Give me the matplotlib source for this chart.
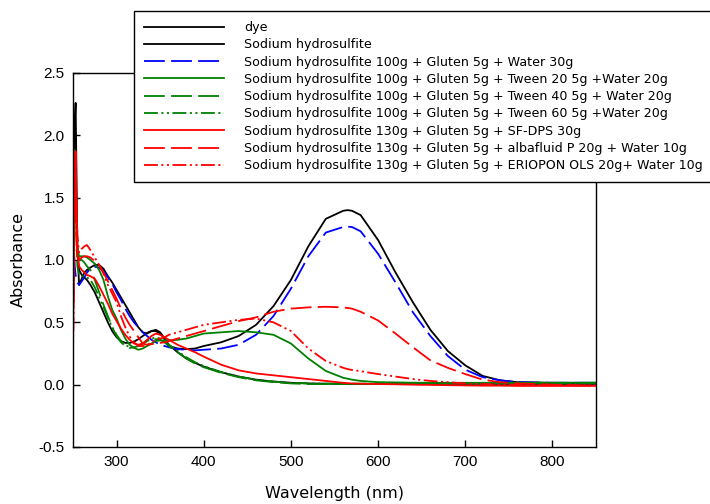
import matplotlib
matplotlib.use("Agg")
import matplotlib.pyplot as plt

plt.rcParams['font.family'] = ['DejaVu Sans']
plt.rcParams['lines.scale_dashes'] = False

wavelength = [250, 251, 252, 253, 254, 255,
              257, 260, 263, 266, 270,
              275, 280, 285, 290, 295, 300, 305, 310, 315, 320, 325, 330, 335, 340, 345, 350, 355, 360,
              370, 380, 390, 400,
              420, 440, 460, 480, 500, 520, 540, 560,
              565, 570, 580,
              600, 620, 640, 660, 680, 700, 720, 740, 760,
              800, 850]

dye = [1.00, 1.60, 2.10, 2.26, 1.70, 1.10,
       0.80, 0.85, 0.90, 0.92, 0.94,
       0.96, 0.96, 0.93, 0.87, 0.82, 0.76, 0.70, 0.64, 0.58, 0.52, 0.46, 0.42, 0.41, 0.43, 0.44, 0.42, 0.37, 0.31,
       0.29, 0.285, 0.29, 0.31,
       0.34, 0.39, 0.48, 0.63, 0.84, 1.11, 1.33, 1.395,
       1.40, 1.395, 1.36,
       1.16, 0.90, 0.66, 0.44, 0.27, 0.155, 0.07, 0.035, 0.02,
       0.015, 0.015]

sodium_hydrosulfite = [0.80, 1.40, 1.90, 1.70, 1.30, 1.05,
                       0.92, 0.88, 0.86, 0.84, 0.80,
                       0.74, 0.66, 0.58, 0.50, 0.43, 0.38, 0.35, 0.335, 0.335, 0.345, 0.365, 0.39, 0.415, 0.43, 0.43, 0.41, 0.37, 0.32,
                       0.26, 0.21, 0.175, 0.145,
                       0.10, 0.065, 0.04, 0.025, 0.015, 0.01, 0.008, 0.006,
                       0.006, 0.006, 0.006,
                       0.006, 0.006, 0.006, 0.006, 0.006, 0.006, 0.006, 0.006, 0.006,
                       0.006, 0.006]

sh100_water = [1.25, 1.10, 0.95, 0.88, 0.85, 0.82,
               0.80, 0.83, 0.86, 0.90, 0.93,
               0.945, 0.94, 0.91, 0.86, 0.81, 0.74, 0.68, 0.61, 0.55, 0.50, 0.46, 0.42, 0.39, 0.36, 0.34, 0.32, 0.31, 0.30,
               0.285, 0.28, 0.275, 0.28,
               0.29, 0.32, 0.40, 0.55, 0.77, 1.03, 1.22, 1.265,
               1.267, 1.265, 1.23,
               1.05, 0.82, 0.58, 0.39, 0.23, 0.12, 0.06, 0.035, 0.02,
               0.015, 0.015]

sh100_tween20 = [0.50, 1.20, 1.88, 1.60, 1.30, 1.10,
                 1.03, 1.03, 1.03, 1.02, 1.00,
                 0.97, 0.92, 0.84, 0.71, 0.60, 0.53, 0.44, 0.37, 0.32, 0.295, 0.28, 0.29, 0.31, 0.33, 0.35, 0.355, 0.355, 0.355,
                 0.36, 0.37, 0.39, 0.41,
                 0.42, 0.43, 0.42, 0.40, 0.33, 0.21, 0.11, 0.055,
                 0.048, 0.04, 0.03,
                 0.02, 0.018, 0.016, 0.015, 0.015, 0.015, 0.015, 0.015, 0.015,
                 0.015, 0.015]

sh100_tween40 = [0.50, 1.10, 1.85, 1.50, 1.20, 1.05,
                 1.00, 1.00, 0.98, 0.95, 0.92,
                 0.84, 0.74, 0.64, 0.55, 0.46, 0.39, 0.34, 0.31, 0.295, 0.30, 0.31, 0.33, 0.35, 0.36, 0.365, 0.36, 0.34, 0.31,
                 0.26, 0.21, 0.17, 0.14,
                 0.095, 0.06, 0.035, 0.02, 0.01, 0.005, 0.005, 0.005,
                 0.005, 0.005, 0.005,
                 0.006, 0.007, 0.008, 0.009, 0.01, 0.01, 0.012, 0.012, 0.014,
                 0.015, 0.015]

sh100_tween60 = [0.55, 1.20, 1.80, 1.50, 1.15, 0.95,
                 0.88, 0.87, 0.87, 0.86, 0.84,
                 0.78, 0.70, 0.62, 0.54, 0.46, 0.40, 0.35, 0.32, 0.30, 0.30, 0.31, 0.33, 0.35, 0.37, 0.38, 0.37, 0.35, 0.32,
                 0.27, 0.22, 0.18, 0.15,
                 0.10, 0.065, 0.04, 0.025, 0.015, 0.01, 0.008, 0.008,
                 0.008, 0.008, 0.008,
                 0.008, 0.009, 0.01, 0.01, 0.01, 0.01, 0.01, 0.012, 0.012,
                 0.012, 0.012]

sh130_sfdps = [0.30, 1.00, 1.60, 1.87, 1.40, 1.05,
               0.95, 0.92, 0.90, 0.88, 0.87,
               0.85, 0.79, 0.72, 0.65, 0.57, 0.51, 0.45, 0.40, 0.36, 0.33, 0.32, 0.33, 0.36, 0.39, 0.41, 0.40, 0.38, 0.36,
               0.32, 0.29, 0.26, 0.225,
               0.16, 0.115, 0.09, 0.075, 0.06, 0.045, 0.03, 0.015,
               0.012, 0.01, 0.008,
               0.005, 0.003, 0.0, -0.002, -0.004, -0.006, -0.008, -0.008, -0.01,
               -0.01, -0.01]

sh130_albafluid = [0.40, 1.10, 1.70, 1.80, 1.40, 1.10,
                   1.00, 1.02, 1.03, 1.03, 1.02,
                   0.99, 0.96, 0.90, 0.83, 0.76, 0.69, 0.61, 0.54, 0.48, 0.43, 0.38, 0.33, 0.32, 0.325, 0.33, 0.335, 0.34, 0.35,
                   0.37, 0.39, 0.41, 0.43,
                   0.47, 0.51, 0.54, 0.585, 0.61, 0.62, 0.625, 0.62,
                   0.615, 0.61, 0.585,
                   0.515, 0.41, 0.30, 0.195, 0.135, 0.085, 0.04, 0.02, 0.01,
                   0.0, -0.01]

sh130_eriopon = [0.20, 0.80, 1.60, 1.87, 1.50, 1.20,
                 1.06, 1.09, 1.11, 1.12, 1.08,
                 1.02, 0.96, 0.89, 0.80, 0.73, 0.66, 0.55, 0.46, 0.386, 0.34, 0.31, 0.31, 0.32, 0.34, 0.36, 0.37, 0.38, 0.40,
                 0.42, 0.44, 0.46, 0.48,
                 0.50, 0.52, 0.53, 0.50, 0.43, 0.29, 0.19, 0.135,
                 0.125, 0.118, 0.108,
                 0.085, 0.065, 0.045, 0.03, 0.02, 0.01, 0.005, 0.0, 0.0,
                 -0.005, -0.005]

labels = ["dye",
          "Sodium hydrosulfite",
          "Sodium hydrosulfite 100g + Gluten 5g + Water 30g",
          "Sodium hydrosulfite 100g + Gluten 5g + Tween 20 5g +Water 20g",
          "Sodium hydrosulfite 100g + Gluten 5g + Tween 40 5g + Water 20g",
          "Sodium hydrosulfite 100g + Gluten 5g + Tween 60 5g +Water 20g",
          "Sodium hydrosulfite 130g + Gluten 5g + SF-DPS 30g",
          "Sodium hydrosulfite 130g + Gluten 5g + albafluid P 20g + Water 10g",
          "Sodium hydrosulfite 130g + Gluten 5g + ERIOPON OLS 20g+ Water 10g"]

series = [dye, sodium_hydrosulfite, sh100_water, sh100_tween20, sh100_tween40,
          sh100_tween60, sh130_sfdps, sh130_albafluid, sh130_eriopon]

dash = (0, (15, 4.5))
dashdotdot = (0, (10, 2.5, 1.5, 2.5, 1.5, 2.5))
styles = [("black", "-"), ("black", "-"), ("#0000ff", dash),
          ("#008000", "-"), ("#008000", dash), ("#008000", dashdotdot),
          ("#ff0000", "-"), ("#ff0000", dash), ("#ff0000", dashdotdot)]

fig = plt.figure(figsize=(7.1, 5.04), dpi=100)
ax = fig.add_axes([73/710, 1 - 447/504, (596-73)/710, (447-73)/504])

handles = []
for vals, (c, ls), lab in zip(series, styles, labels):
    h, = ax.plot(wavelength, vals, color=c, linestyle=ls, lw=1.3, label=lab)
    handles.append(h)

ax.set_xlim(250, 850)
ax.set_ylim(-0.5, 2.5)
ax.set_xticks([300, 400, 500, 600, 700, 800])
ax.set_yticks([-0.5, 0.0, 0.5, 1.0, 1.5, 2.0, 2.5])
ax.set_yticklabels(["-0.5", "0.0", "0.5", "1.0", "1.5", "2.0", "2.5"])
ax.tick_params(direction='in', length=5, width=1, labelsize=10.5, pad=6)
for lbl in ax.get_xticklabels() + ax.get_yticklabels():
    lbl.set_family(['Liberation Sans', 'DejaVu Sans'])
    lbl.set_fontsize(11)
for s in ax.spines.values():
    s.set_linewidth(1.0)
ax.set_xlabel("Wavelength (nm)", fontsize=11.5, labelpad=12)
ax.set_ylabel("Absorbance", fontsize=11.5, labelpad=9)

leg = fig.legend(handles=handles, loc='upper left',
                 bbox_to_anchor=(134/710, 1 - 11/504), borderaxespad=0,
                 fontsize=9.1,
                 handlelength=6.33, handletextpad=1.58, labelspacing=0.34,
                 borderpad=0.79, fancybox=False, framealpha=1, edgecolor='black')
leg.get_frame().set_linewidth(1.0)

fig.savefig("out.png", dpi=100)
